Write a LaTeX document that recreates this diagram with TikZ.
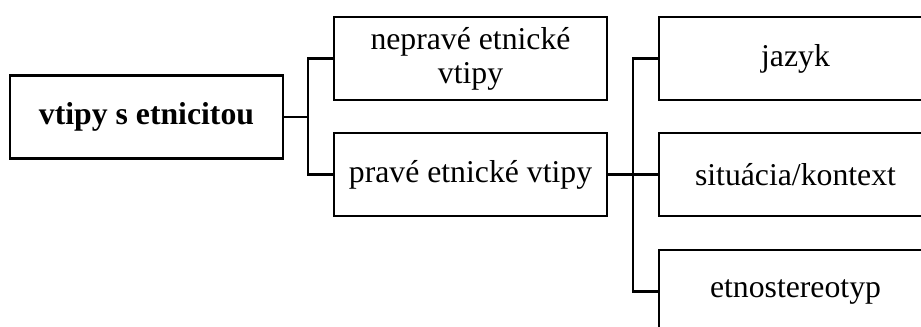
\documentclass[tikz,border=0pt]{standalone}
\usepackage{fontspec}
\setmainfont{Liberation Serif}
\begin{document}
\begin{tikzpicture}[x=0.75pt,y=-0.75pt,
  box/.style={draw=black, line width=1.9pt, rectangle, minimum width=204.75pt, minimum height=62.5pt, inner sep=0pt, align=center, font=\fontsize{23.8}{25.5}\selectfont},
  conn/.style={draw=black, line width=1.6pt}]
\path[use as bounding box] (0,0) rectangle (921,327);
\clip (0,0) rectangle (921,327);
\node[box, font=\fontsize{23.8}{25.5}\selectfont\bfseries] (root) at (146.5,117) {vtipy s etnicitou};
\node[box] (nep) at (470.5,58.5) {nepravé etnické\\vtipy};
\node[box] (prav) at (470.5,174.5) {pravé etnické vtipy};
\node[box] (jaz) at (795.5,58.5) {jazyk};
\node[box] (sit) at (795.5,174.5) {situácia/kontext};
\node[box] (etn) at (795.5,291.5) {etnostereotyp};
\coordinate (j1) at (308,117);
\coordinate (j2) at (633,174.5);
\draw[conn] (root.east) -- (j1);
\draw[conn] (nep.west) -| (j1) |- (prav.west);
\draw[conn] (prav.east) -- (sit.west);
\draw[conn] (jaz.west) -| (j2) |- (etn.west);
\end{tikzpicture}
\end{document}
